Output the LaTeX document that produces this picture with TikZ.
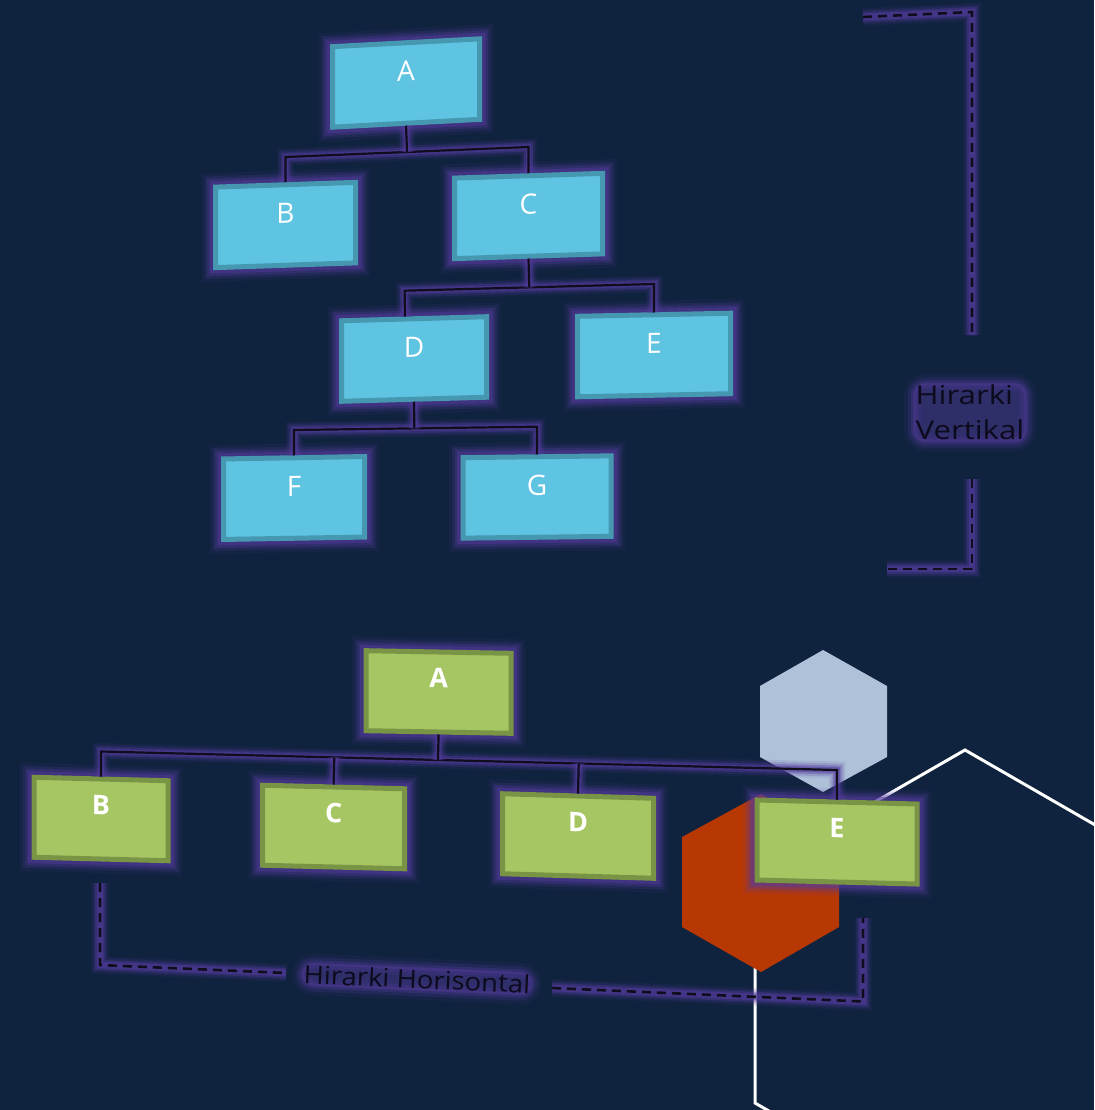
\documentclass[tikz,border=0pt]{standalone}
\usepackage{fontspec}
\setmainfont{Open Sans}
\usetikzlibrary{calc}
\definecolor{bg}{RGB}{16,35,62}
\definecolor{bfill}{RGB}{94,196,226}
\definecolor{bborder}{RGB}{70,152,176}
\definecolor{gfill}{RGB}{166,198,100}
\definecolor{gborder}{RGB}{120,148,68}
\definecolor{glow}{RGB}{84,60,158}
\definecolor{linec}{RGB}{16,14,28}
\definecolor{hexlight}{RGB}{175,193,217}
\definecolor{hexred}{RGB}{184,56,4}
\definecolor{txtdark}{RGB}{12,10,28}
\begin{document}
\begin{tikzpicture}[x=1pt,y=-1pt,
  gl/.style={preaction={draw=glow,draw opacity=0.1,line width=28pt},preaction={draw=glow,draw opacity=0.18,line width=22pt},preaction={draw=glow,draw opacity=0.3,line width=17pt},preaction={draw=glow,draw opacity=0.45,line width=12pt}},
  bbox/.style={gl,rectangle,draw=bborder,fill=bfill,line width=5pt,inner sep=0pt,text=white,font=\fontsize{28}{32}\selectfont,text height=38.5pt,text depth=42pt,minimum width=#1},
  gbox/.style={gl,rectangle,draw=gborder,fill=gfill,line width=5pt,inner sep=0pt,text=white,font=\fontsize{27}{32}\selectfont\bfseries,text height=35.5pt,text depth=44.5pt,minimum width=#1},
  conn/.style={draw=linec,line width=2.2pt,preaction={draw=glow,draw opacity=0.1,line width=17pt},preaction={draw=glow,draw opacity=0.2,line width=13pt},preaction={draw=glow,draw opacity=0.35,line width=9pt},preaction={draw=glow,draw opacity=0.5,line width=5.5pt}},
  dashln/.style={draw=linec,line width=2.6pt,dash pattern=on 9pt off 6pt,preaction={draw=glow,solid,draw opacity=0.1,line width=18pt},preaction={draw=glow,solid,draw opacity=0.2,line width=14pt},preaction={draw=glow,solid,draw opacity=0.35,line width=10pt},preaction={draw=glow,solid,draw opacity=0.5,line width=6.5pt}},
  lab/.style={text=txtdark,inner sep=2pt,rounded corners=12pt,fill=glow,fill opacity=0.45,text opacity=1,preaction={draw=glow,draw opacity=0.1,line width=18pt},preaction={draw=glow,draw opacity=0.2,line width=11pt},preaction={draw=glow,draw opacity=0.3,line width=5pt}}
]
\useasboundingbox (0,0) rectangle (1094,1110);
\fill[bg] (0,0) rectangle (1094,1110);
% decorative hexagons
\begin{scope}
\clip (0,0) rectangle (1094,1110);
\draw[white,line width=3pt] (965,750) -- (1175,871) -- (1175,1103) -- (965,1224) -- (755,1103) -- (755,871) -- cycle;
\end{scope}
\fill[hexlight] (823,650) -- (887,686) -- (887,757) -- (823,792) -- (760,757) -- (760,686) -- cycle;
\fill[hexred] (761,794) -- (839,837) -- (839,927) -- (761,972) -- (682,927) -- (682,837) -- cycle;

% vertical hierarchy (blue)
\node[bbox=147,yslant=0.053] (A) at (406,83) {A};
\node[bbox=140,yslant=0.034] (B) at (285.5,225) {B};
\node[bbox=148,yslant=0.032] (C) at (528.5,216) {C};
\node[bbox=145,yslant=0.028] (D) at (414,359) {D};
\node[bbox=153,yslant=0.02] (E) at (654,355) {E};
\node[bbox=141,yslant=0.017] (F) at (294,498) {F};
\node[bbox=148,yslant=0.012] (G) at (537,497) {G};

\coordinate (b1l) at (285.5,157);
\coordinate (b1r) at (528.5,147);
\draw[conn] (B.north) -- (b1l) -- (b1r) -- (C.north);
\draw[conn] (A.south) -- ($(b1l)!(A.south)!(b1r)$);
\coordinate (Dtop) at ($(D.north west)!0.44!(D.north east)$);
\coordinate (b2l) at (404.6,290.7);
\coordinate (b2r) at (654,284);
\draw[conn] (Dtop) -- (b2l) -- (b2r) -- (E.north);
\draw[conn] (C.south) -- ($(b2l)!(C.south)!(b2r)$);
\coordinate (b3l) at (294,430);
\coordinate (b3r) at (537,426.7);
\draw[conn] (F.north) -- (b3l) -- (b3r) -- (G.north);
\draw[conn] (D.south) -- ($(b3l)!(D.south)!(b3r)$);

% horizontal hierarchy (green)
\node[gbox=145,yslant=-0.018] (gA) at (438.6,692) {A};
\node[gbox=134,yslant=-0.026] (gB) at (101,819) {B};
\node[gbox=142,yslant=-0.025] (gC) at (333.6,827) {C};
\node[gbox=151,yslant=-0.03] (gD) at (578,836) {D};
\node[gbox=160,yslant=-0.025] (gE) at (837,842) {E};

\coordinate (g1l) at (101,751.5);
\coordinate (g1r) at (837,770);
\draw[conn] (gB.north) -- (g1l) -- (g1r) -- (gE.north);
\draw[conn] (gA.south) -- ($(g1l)!(gA.south)!(g1r)$);
\draw[conn] (gC.north) -- ($(g1l)!(gC.north)!(g1r)$);
\draw[conn] (gD.north) -- ($(g1l)!(gD.north)!(g1r)$);

% brackets and labels
\coordinate (v1) at (863,17);
\coordinate (v2) at (972,12);
\coordinate (v3) at (972,335);
\coordinate (v4) at (972,479);
\coordinate (v5) at (972,569);
\coordinate (v6) at (887,569);
\draw[dashln] (v1) -- (v2) -- (v3);
\draw[dashln] (v4) -- (v5) -- (v6);
\node[lab,align=left,anchor=north west,font=\fontsize{26}{35}\selectfont,xscale=1.2] (vlab) at (913,383) {Hirarki\\Vertikal};

\coordinate (h1) at (100,883);
\coordinate (h2) at (100,965);
\coordinate (h3) at (286,973);
\coordinate (h4) at (552,988);
\coordinate (h5) at (863,1001.5);
\coordinate (h6) at (863,918);
\draw[dashln] (h1) -- (h2) -- (h3);
\draw[dashln] (h4) -- (h5) -- (h6);
\node[lab,rotate=-2.5,font=\fontsize{25}{35}\selectfont,xscale=1.1] (hlab) at (417,979) {Hirarki Horisontal};
\end{tikzpicture}
\end{document}
